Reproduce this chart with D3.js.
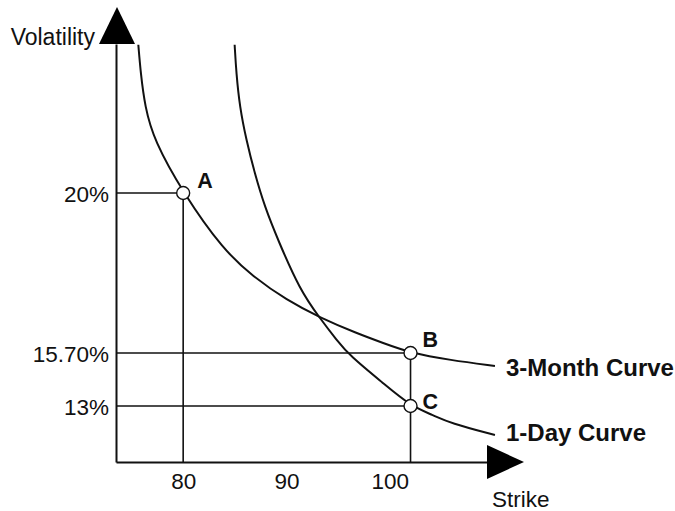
<!DOCTYPE html>
<html>
<head>
<meta charset="utf-8">
<script src="https://cdn.jsdelivr.net/npm/d3@7"></script>
<style>
  html, body { margin: 0; padding: 0; background: #fff; }
  svg { display: block; }
  text { font-family: "Liberation Sans", Arial, Helvetica, sans-serif; fill: #111; }
</style>
</head>
<body>
<svg id="chart" width="675" height="511"></svg>
<script>
// ---- data ----
const xTicks = [80, 90, 100];
const yTicks = [13, 15.7, 20];
const yTickLabels = ["13%", "15.70%", "20%"];

const threeMonthStrike = [75.66, 75.89, 76.30, 77.17, 80, 83.88, 86.78, 90.02, 93.24, 96.79, 99.33, 102, 105.82, 110.17];
const threeMonthVol    = [23.98, 23.22, 22.32, 21.42, 20, 18.47, 17.75, 17.12, 16.65, 16.23, 15.97, 15.7, 15.34, 15.04];

const oneDayStrike = [84.98, 85.14, 85.47, 86.11, 86.92, 87.89, 89.17, 91.30, 93.24, 94.85, 96.14, 99.36, 102, 104.17, 105.82, 110.17];
const oneDayVol    = [23.98, 23.22, 22.32, 21.42, 20.53, 19.63, 18.74, 17.39, 16.63, 16.05, 15.55, 14.16, 13, 12.54, 12.13, 11.52];

const pointNames  = ["A", "B", "C"];
const pointStrike = [80, 102, 102];
const pointVol    = [20, 15.7, 13];

const curveNames = ["3-Month Curve", "1-Day Curve"];

// ---- scales ----
const svg = d3.select("#chart");
const x = d3.scaleLinear().domain([73.5, 109.4]).range([116, 487]);
const y = d3.scaleLinear().domain([10.15, 13, 15.7, 20, 24]).range([462, 406, 353, 193, 44]);

const x0 = x.range()[0], xEnd = x.range()[1];
const y0 = y.range()[0], yEnd = y.range()[4];

// ---- reference lines ----
const ref = svg.append("g").attr("stroke", "#111").attr("stroke-width", 1.6).attr("fill", "none");
pointNames.forEach((n, i) => {
  ref.append("line")
    .attr("x1", x0).attr("x2", x(pointStrike[i]))
    .attr("y1", y(pointVol[i])).attr("y2", y(pointVol[i]));
});
[0, 1].forEach(i => {
  ref.append("line")
    .attr("x1", x(pointStrike[i])).attr("x2", x(pointStrike[i]))
    .attr("y1", y(pointVol[i])).attr("y2", y0);
});

// ---- axes ----
const xAxis = svg.append("g")
  .attr("transform", `translate(0,${y0})`)
  .call(d3.axisBottom(x).tickValues(xTicks).tickSizeInner(0).tickSizeOuter(0).tickPadding(11).tickFormat(d3.format("d")));
xAxis.select(".domain").attr("stroke", "#111").attr("stroke-width", 2);
xAxis.selectAll("text").attr("font-size", 22.5).attr("fill", "#111");

const yAxis = svg.append("g")
  .attr("transform", `translate(${x0},0)`)
  .call(d3.axisLeft(y).tickValues(yTicks).tickSizeInner(0).tickSizeOuter(0).tickPadding(7)
    .tickFormat((d, i) => yTickLabels[i]));
yAxis.select(".domain").attr("stroke", "#111").attr("stroke-width", 2);
yAxis.selectAll("text").attr("font-size", 22.5).attr("fill", "#111").attr("dy", "0.38em");

// arrow heads
svg.append("path")
  .attr("d", `M${x0 + 1},${yEnd - 37} L${x0 - 17},${yEnd} L${x0 + 19},${yEnd} Z`)
  .attr("fill", "#000");
svg.append("path")
  .attr("d", `M${xEnd + 37},${y0} L${xEnd},${y0 - 17} L${xEnd},${y0 + 17} Z`)
  .attr("fill", "#000");

// axis titles
svg.append("text").attr("x", 95).attr("y", 45).attr("text-anchor", "end")
  .attr("font-size", 23).text("Volatility");
svg.append("text").attr("x", 492).attr("y", 507)
  .attr("font-size", 22.5).text("Strike");

// ---- curves ----
const line = d3.line().x(d => x(d[0])).y(d => y(d[1])).curve(d3.curveBasis);
const series = [
  threeMonthStrike.map((s, i) => [s, threeMonthVol[i]]),
  oneDayStrike.map((s, i) => [s, oneDayVol[i]])
];
svg.append("g").selectAll("path").data(series).join("path")
  .attr("d", line).attr("fill", "none").attr("stroke", "#111").attr("stroke-width", 2);

// curve labels
const curveLabelDy = [10, 6];
series.forEach((s, i) => {
  const last = s[s.length - 1];
  svg.append("text")
    .attr("x", x(last[0]) + 11).attr("y", y(last[1]) + curveLabelDy[i])
    .attr("font-size", 24).attr("font-weight", "bold").text(curveNames[i]);
});

// ---- points ----
svg.append("g").selectAll("circle").data(pointNames).join("circle")
  .attr("cx", (d, i) => x(pointStrike[i]))
  .attr("cy", (d, i) => y(pointVol[i]))
  .attr("r", 6.5).attr("fill", "#fff").attr("stroke", "#111").attr("stroke-width", 1.4);

const labelOff = [[14, -5], [12, -6], [12, 3]];
svg.append("g").selectAll("text").data(pointNames).join("text")
  .attr("x", (d, i) => x(pointStrike[i]) + labelOff[i][0])
  .attr("y", (d, i) => y(pointVol[i]) + labelOff[i][1])
  .attr("font-size", 21.5).attr("font-weight", "bold").text(d => d);
</script>
</body>
</html>
